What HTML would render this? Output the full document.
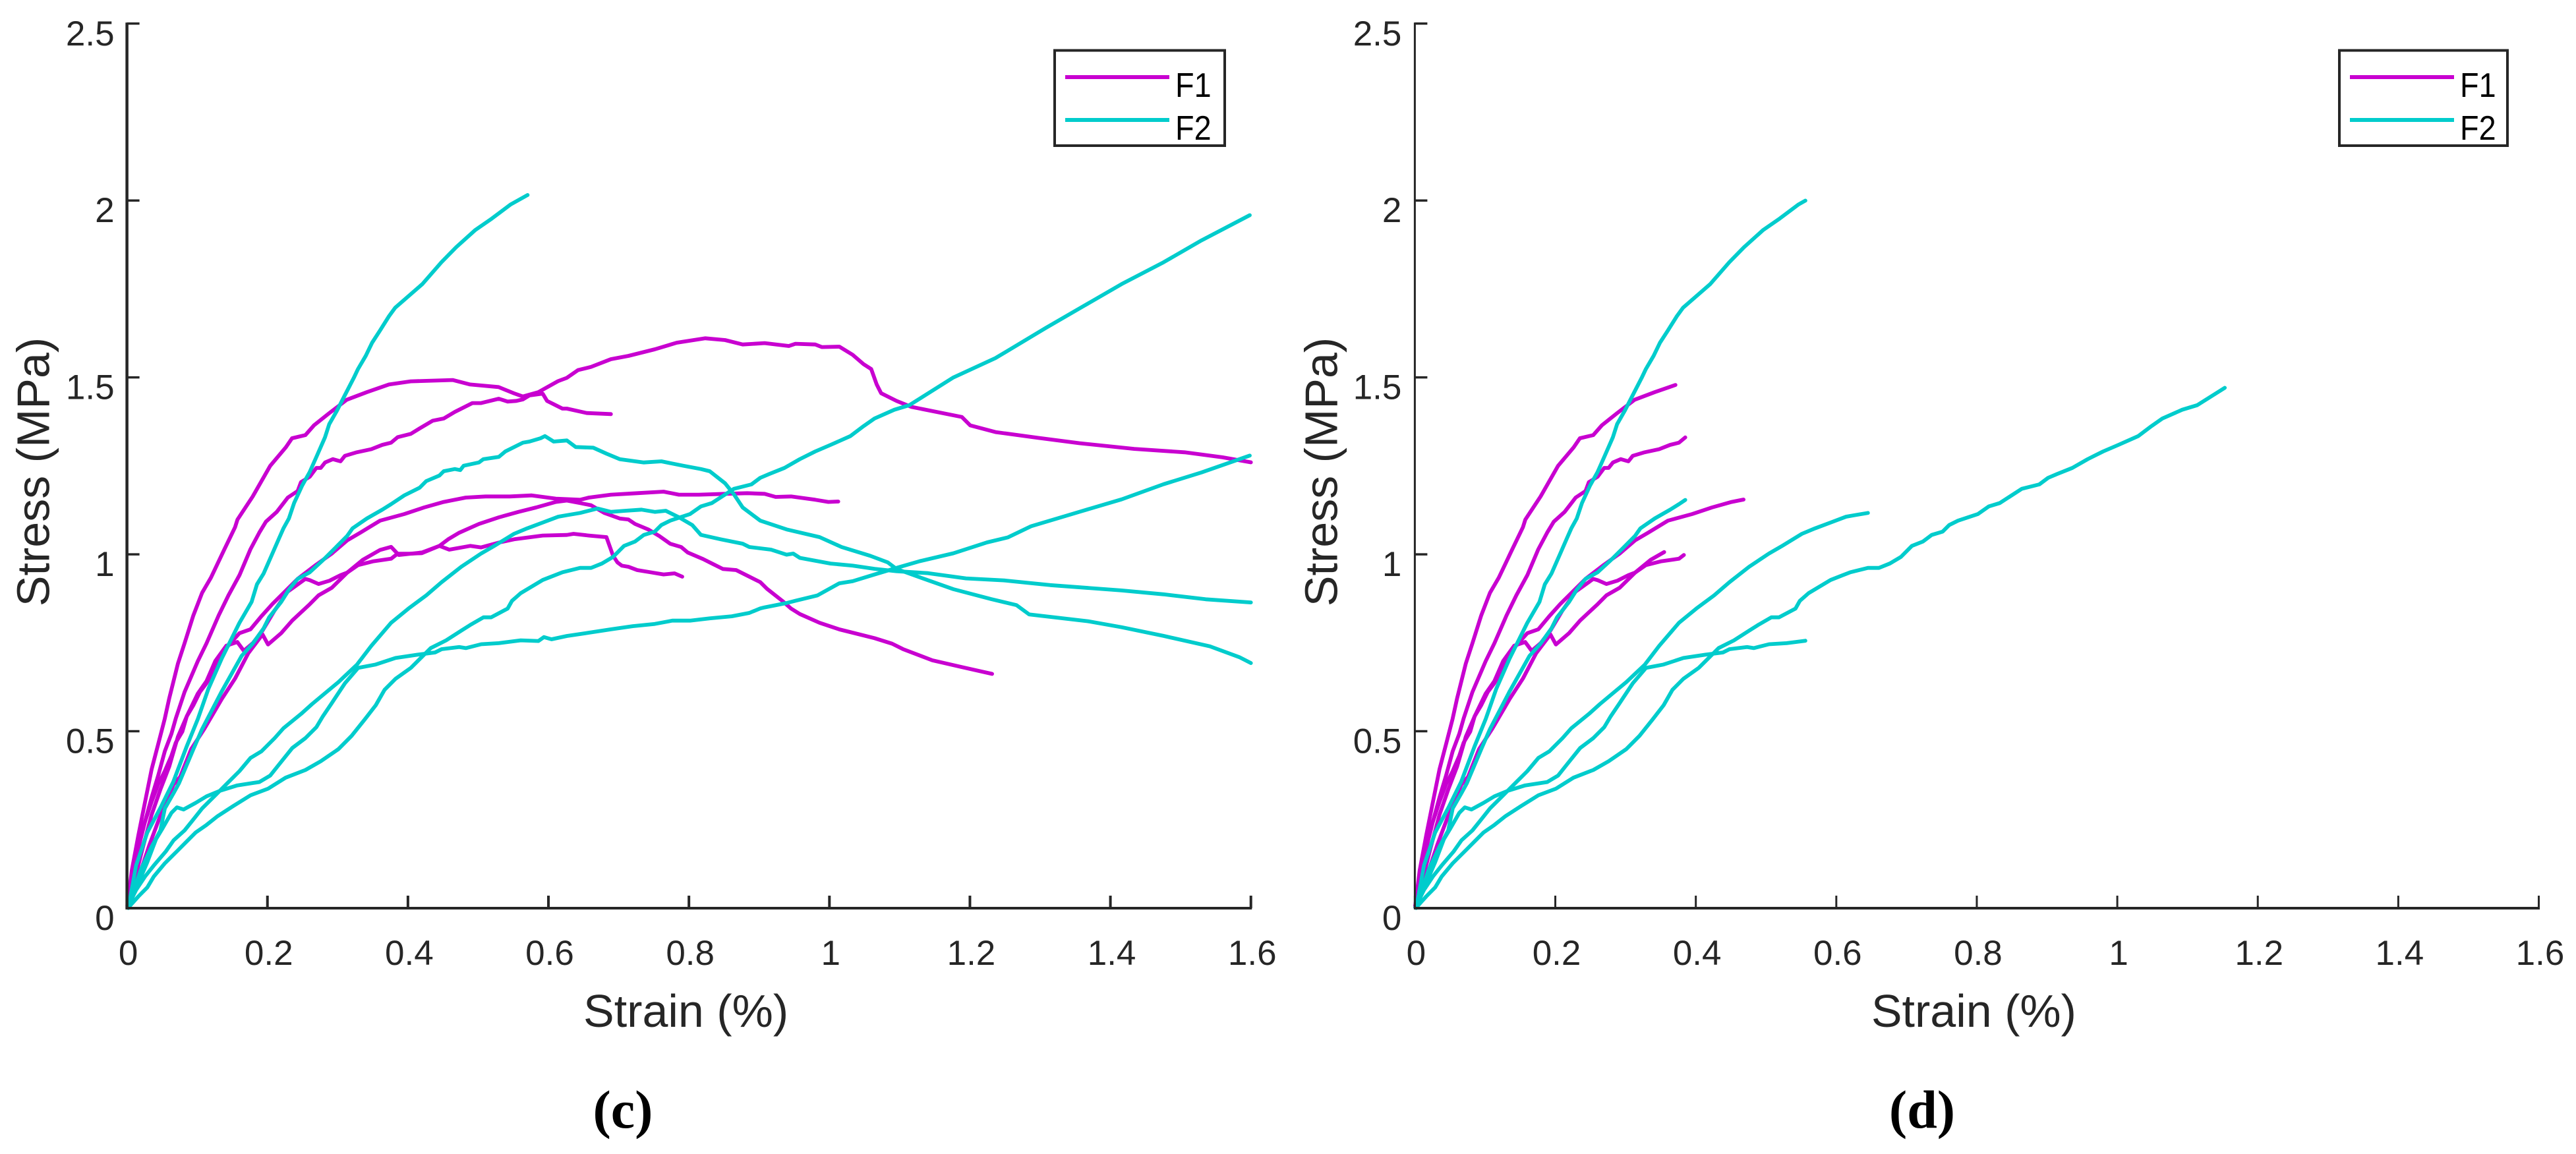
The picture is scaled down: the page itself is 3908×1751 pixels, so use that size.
<!DOCTYPE html>
<html lang="en">
<head>
<meta charset="utf-8">
<title>Stress-strain curves (c) and (d)</title>
<style>
html,body{margin:0;padding:0;background:#fff;}
svg{display:block;}
text{font-family:"Liberation Sans",Arial,sans-serif;fill:#262626;}
</style>
</head>
<body>
<svg id="figure" xmlns="http://www.w3.org/2000/svg" width="3908" height="1751" viewBox="0 0 3908 1751">
<rect x="0" y="0" width="3908" height="1751" fill="#ffffff"/>
</svg>
<script>
// Tick values and labels
const xTickValues = [0, 0.2, 0.4, 0.6, 0.8, 1, 1.2, 1.4, 1.6];
const xTickLabels = ["0", "0.2", "0.4", "0.6", "0.8", "1", "1.2", "1.4", "1.6"];
const yTickValues = [0, 0.5, 1, 1.5, 2, 2.5];
const yTickLabels = ["0", "0.5", "1", "1.5", "2", "2.5"];
const panelNames = ["c", "d"];
const seriesNames = ["F1", "F2"];

// F1 specimens: [strain %, stress MPa]
const f1Specimen1 = [[.0007,.0074],[.0069,.1073],[.0163,.207],[.0257,.2997],[.0351,.3923],[.0445,.4636],[.0538,.5349],[.0601,.592],[.0726,.6917],[.082,.7487],[.0945,.8271],[.107,.8913],[.1195,.934],[.1383,1.0125],[.1539,1.0766],[.1574,1.0984],[.179,1.1635],[.204,1.2504],[.2262,1.3027],[.235,1.328],[.254,1.337],[.2665,1.365],[.288,1.399],[.313,1.437],[.3416,1.4584],[.373,1.48],[.404,1.489],[.4636,1.4926],[.4886,1.48],[.529,1.4727],[.551,1.455],[.5637,1.446],[.5856,1.4584],[.6137,1.4894],[.6263,1.4988],[.642,1.5205],[.6607,1.5298],[.6889,1.5515],[.7139,1.5608],[.7514,1.5795],[.7827,1.598],[.8234,1.6105],[.8515,1.6055],[.8765,1.5931],[.9078,1.5969],[.9422,1.5888],[.9516,1.595],[.9798,1.5931],[.9891,1.5857],[1.0142,1.5869],[1.033,1.5639],[1.0486,1.5373],[1.0595,1.5236],[1.0673,1.4801],[1.0736,1.4553],[1.0955,1.4336],[1.1167,1.4167],[1.1885,1.3882],[1.2004,1.3645],[1.2364,1.3455],[1.2962,1.3293],[1.356,1.3141],[1.4339,1.298],[1.5056,1.2884],[1.5595,1.2742],[1.6,1.26]];
const f1Specimen2 = [[.0007,.0025],[.007,.0956],[.0164,.1825],[.0257,.2446],[.0351,.3129],[.0445,.375],[.0539,.4433],[.0633,.493],[.0695,.5364],[.082,.6109],[.1008,.6978],[.1133,.7485],[.1305,.8271],[.1445,.8842],[.1602,.9412],[.1758,1.0145],[.1883,1.0611],[.1977,1.0921],[.2133,1.12],[.229,1.1604],[.243,1.179],[.2477,1.2039],[.2603,1.2194],[.2696,1.2442],[.2759,1.2442],[.2821,1.2597],[.2931,1.269],[.304,1.2628],[.3103,1.2784],[.326,1.2877],[.3478,1.297],[.3635,1.3094],[.376,1.3156],[.3854,1.3311],[.4041,1.3404],[.4167,1.356],[.4354,1.3777],[.451,1.3839],[.4667,1.4025],[.4917,1.4274],[.5042,1.4274],[.5293,1.4398],[.5417,1.4317],[.5543,1.4336],[.5637,1.4379],[.573,1.4491],[.5918,1.4541],[.598,1.4336],[.6106,1.4212],[.62,1.4118],[.6263,1.4118],[.6545,1.3994],[.6889,1.3963]];
const f1Specimen3 = [[.0007,.0025],[.0132,.1453],[.0257,.2446],[.0351,.3005],[.0445,.3502],[.0539,.3874],[.0633,.4309],[.0695,.4681],[.0789,.4992],[.0852,.5426],[.0946,.5737],[.1039,.6109],[.1133,.6358],[.1258,.6792],[.1383,.7289],[.1602,.7772],[.1758,.788],[.1914,.8251],[.207,.8593],[.2258,.8965],[.243,.9307],[.2696,.971],[.2915,1.0021],[.3134,1.0393],[.3322,1.0611],[.3603,1.0952],[.3948,1.1138],[.4229,1.1325],[.451,1.148],[.4823,1.1604],[.5105,1.1635],[.545,1.1635],[.5762,1.1666],[.6106,1.1573],[.645,1.1542],[.6576,1.1604],[.6889,1.1685],[.7264,1.1728],[.7639,1.1772],[.7858,1.1685],[.814,1.1685],[.8515,1.171],[.8828,1.1728],[.9078,1.171],[.9234,1.1622],[.9454,1.1635],[.9798,1.1542],[.9985,1.148],[1.0126,1.1492]];
const f1Specimen4 = [[.0007,.0074],[.0116,.0859],[.0226,.1714],[.0351,.264],[.0476,.3353],[.0601,.3995],[.0726,.485],[.0851,.542],[.1008,.6062],[.1133,.6418],[.1258,.6988],[.1414,.7416],[.1571,.7523],[.1664,.7273],[.179,.7487],[.193,.7844],[.2102,.8414],[.229,.8948],[.254,.9305],[.2603,.9269],[.2728,.9162],[.2884,.9255],[.304,.9412],[.3135,.9483],[.3354,.984],[.3604,1.0125],[.376,1.021],[.387,.9982],[.4042,1.0018],[.4198,1.0033],[.4448,1.0238],[.4589,1.0133],[.4886,1.0238],[.5042,1.0195],[.5293,1.0331],[.5512,1.0424],[.5918,1.053],[.6263,1.0548],[.6357,1.0579],[.6576,1.053],[.6826,1.0486],[.692,.9959],[.6982,.9773],[.7045,.968],[.7139,.9648],[.7264,.9555],[.7452,.9493],[.7639,.9431],[.7796,.9462],[.7905,.9369]];
const f1Specimen5 = [[.0007,.0074],[.0163,.0859],[.0319,.1785],[.0507,.2783],[.0663,.3496],[.0757,.371],[.0914,.4494],[.1101,.5064],[.1352,.5919],[.1539,.649],[.1727,.7202],[.193,.7737],[.2008,.7452],[.2196,.7772],[.2353,.813],[.2603,.8592],[.2728,.8842],[.2916,.9055],[.3135,.9483],[.3291,.9697],[.351,.9804],[.376,.9875],[.3854,1.0018],[.4042,1.0018],[.4198,1.0052],[.4448,1.0238],[.4573,1.0424],[.473,1.0611],[.5011,1.0859],[.5293,1.1045],[.5574,1.12],[.5824,1.1325],[.6106,1.148],[.6263,1.152],[.645,1.1449],[.6607,1.1387],[.6795,1.1169],[.7014,1.1014],[.7139,1.0983],[.7233,1.0859],[.742,1.0704],[.7577,1.0518],[.7733,1.03],[.789,1.0207],[.7983,1.0052],[.8202,.9866],[.8327,.9742],[.8484,.9586],[.8672,.9555],[.886,.9369],[.9016,.9214],[.911,.9027],[.9328,.8686],[.9453,.8469],[.9579,.8313],[.986,.8065],[1.0142,.7879],[1.033,.7786],[1.0642,.7631],[1.0892,.7475],[1.1047,.7321],[1.1466,.7005],[1.1885,.6813],[1.2316,.6621]];

// F2 specimens: [strain %, stress MPa]
const f2Specimen1 = [[.002,.0003],[.013,.121],[.029,.214],[.048,.285],[.066,.357],[.085,.457],[.101,.535],[.116,.62],[.135,.706],[.16,.806],[.1774,.8655],[.185,.915],[.1946,.946],[.207,1.002],[.2165,1.045],[.2227,1.073],[.2305,1.101],[.238,1.145],[.2493,1.194],[.26,1.232],[.2696,1.275],[.282,1.331],[.288,1.368],[.299,1.406],[.31,1.449],[.323,1.499],[.329,1.524],[.34,1.561],[.349,1.598],[.36,1.632],[.373,1.673],[.3818,1.697],[.4207,1.764],[.4477,1.8254],[.4686,1.868],[.4955,1.916],[.5195,1.949],[.5464,1.989],[.5703,2.0154]];
const f2Specimen2 = [[.002,.003],[.0195,.108],[.035,.1732],[.0476,.2198],[.054,.282],[.0664,.3253],[.074,.353],[.0945,.449],[.107,.506],[.135,.613],[.1633,.713],[.1789,.7475],[.1946,.791],[.2024,.822],[.2196,.8655],[.2305,.9],[.243,.9307],[.2603,.9493],[.279,.9835],[.2978,1.0207],[.3134,1.0518],[.3212,1.0735],[.3416,1.1014],[.3635,1.1263],[.376,1.1418],[.3948,1.1666],[.4167,1.1883],[.426,1.207],[.4448,1.2225],[.451,1.2349],[.4667,1.2411],[.4745,1.238],[.4792,1.2504],[.5011,1.2597],[.5074,1.269],[.5293,1.2753],[.5386,1.2908],[.5637,1.3156],[.573,1.3187],[.5887,1.328],[.595,1.3342],[.6075,1.3187],[.6263,1.3218],[.6388,1.3032],[.6638,1.3013],[.6826,1.2846],[.7014,1.269],[.7358,1.2597],[.7608,1.2628],[.792,1.2504],[.817,1.2411],[.8296,1.2349],[.8515,1.2008],[.864,1.1697],[.8765,1.1325],[.9016,1.0952],[.939,1.0704],[.986,1.0487],[1.0173,1.0207],[1.058,.9959],[1.083,.9773],[1.0955,.9586],[1.1406,.9267],[1.1765,.9015],[1.2304,.8733],[1.2663,.8564],[1.2842,.8304],[1.368,.811],[1.4159,.794],[1.4757,.7694],[1.5416,.74],[1.5835,.7095],[1.6,.6926]];
const f2Specimen3 = [[.0007,.0025],[.0132,.0522],[.0257,.0894],[.0382,.1205],[.0555,.1608],[.0664,.1919],[.082,.2198],[.0946,.2508],[.1071,.2819],[.1258,.3191],[.1446,.3564],[.1602,.3874],[.1759,.4247],[.1915,.4433],[.2103,.4805],[.2228,.5085],[.2478,.5488],[.2635,.5768],[.2822,.6078],[.301,.6389],[.3276,.6885],[.3478,.7413],[.376,.8065],[.401,.847],[.426,.884],[.448,.9214],[.476,.965],[.504,1.002],[.523,1.024],[.551,1.058],[.57,1.0735],[.592,1.09],[.614,1.1064],[.6263,1.1107],[.645,1.117],[.67,1.1294],[.689,1.12],[.7076,1.123],[.7326,1.1263],[.7514,1.12],[.767,1.1232],[.786,1.1045],[.8046,1.0828],[.817,1.055],[.8453,1.0424],[.8765,1.03],[.886,1.0207],[.917,1.0133],[.939,.999],[.9485,1.002],[.958,.99],[1.0017,.974],[1.033,.968],[1.0642,.959],[1.0955,.9524],[1.1406,.9467],[1.1944,.932],[1.248,.9264],[1.3142,.913],[1.4159,.898],[1.4757,.887],[1.5356,.873],[1.6,.864]];
const f2Specimen4 = [[.0023,.0025],[.0164,.0335],[.0289,.0584],[.0382,.0894],[.0539,.1267],[.0727,.1639],[.0883,.195],[.0977,.2136],[.1133,.2353],[.129,.2601],[.1509,.2881],[.1759,.3191],[.2009,.3377],[.2259,.3688],[.2541,.3905],[.276,.4154],[.301,.4495],[.3198,.4868],[.3385,.5333],[.3542,.5737],[.3667,.617],[.3823,.6481],[.4042,.6792],[.4199,.7102],[.4324,.735],[.4543,.7568],[.4762,.7847],[.4887,.8003],[.5075,.822],[.5184,.822],[.5419,.8468],[.5481,.8685],[.5606,.8903],[.5919,.9275],[.62,.9493],[.645,.9617],[.6607,.9617],[.6763,.9742],[.692,.9928],[.7076,1.0238],[.7233,1.0362],[.7358,1.0548],[.7514,1.0642],[.7608,1.0828],[.7733,1.0952],[.8015,1.1138],[.8171,1.1355],[.8327,1.1449],[.864,1.1852],[.889,1.1977],[.9016,1.2163],[.9141,1.2268],[.936,1.2442],[.9579,1.269],[.9798,1.2908],[1.0017,1.3094],[1.0298,1.3342],[1.0486,1.3622],[1.0642,1.3839],[1.0924,1.4087],[1.1137,1.4215],[1.1765,1.5],[1.2363,1.5545],[1.3082,1.64],[1.362,1.7018],[1.4159,1.7636],[1.4757,1.8254],[1.5296,1.8871],[1.5984,1.9584]];
const f2Specimen5 = [[.0023,.0025],[.0148,.0646],[.0289,.1298],[.0414,.195],[.0508,.226],[.0633,.2695],[.0711,.285],[.0805,.2788],[.0977,.2974],[.1133,.316],[.1321,.3315],[.1571,.347],[.1884,.3564],[.204,.375],[.2165,.406],[.2353,.4526],[.254,.4805],[.2697,.5116],[.279,.5426],[.2916,.5799],[.3104,.6358],[.3291,.679],[.3541,.6885],[.3823,.7071],[.4136,.7164],[.4386,.7227],[.448,.732],[.473,.738],[.4824,.735],[.5043,.746],[.5293,.749],[.5606,.757],[.5857,.755],[.5935,.766],[.6044,.76],[.6263,.7693],[.6576,.7786],[.689,.788],[.72,.797],[.7514,.8034],[.7764,.8127],[.8015,.8127],[.8296,.819],[.861,.825],[.886,.8345],[.9016,.847],[.9078,.85],[.939,.8624],[.9516,.8686],[.983,.884],[1.014,.918],[1.033,.924],[1.0642,.943],[1.0955,.9617],[1.1286,.9806],[1.1765,1.003],[1.2244,1.0337],[1.2543,1.048],[1.287,1.0794],[1.359,1.122],[1.416,1.1554],[1.4757,1.1982],[1.5296,1.2314],[1.5984,1.279]];

// Strain at which each specimen stops in panel (d)
const f1PanelDEnd = [0.371, 0.385, 0.468, 0.355, 0.383];
const f2PanelDEnd = [0.556, 0.385, 0.645, 1.153, 0.556];

const f1Curves = [f1Specimen1, f1Specimen2, f1Specimen3, f1Specimen4, f1Specimen5];
const f2Curves = [f2Specimen1, f2Specimen2, f2Specimen3, f2Specimen4, f2Specimen5];

const NS = "http://www.w3.org/2000/svg";
const INK = "#262626";
const F1_COLOR = "#c800d0";
const F2_COLOR = "#00cccc";
const root = document.getElementById("figure");

function yScale(v) { return 1378 - 536.9 * v; }
function xScaleFor(origin) { return function (v) { return origin + 1065.7 * v; }; }

function make(tag, attrs, parent) {
  const el = document.createElementNS(NS, tag);
  for (const k in attrs) el.setAttribute(k, attrs[k]);
  parent.appendChild(el);
  return el;
}

function clip(curve, end) {
  if (end === null) return curve;
  const out = [];
  for (let i = 0; i < curve.length; i++) {
    if (curve[i][0] <= end) { out.push(curve[i]); continue; }
    const a = curve[i - 1], b = curve[i];
    const t = (end - a[0]) / (b[0] - a[0]);
    out.push([end, a[1] + (b[1] - a[1]) * t]);
    break;
  }
  return out;
}

function pathFrom(curve, xs) {
  return curve.map(function (p, i) {
    return (i ? "L" : "M") + xs(p[0]).toFixed(1) + " " + yScale(p[1]).toFixed(1);
  }).join("");
}

function drawPanel(index, cfg) {
  const xs = xScaleFor(cfg.origin);
  const name = panelNames[index];
  const g = make("g", {}, root);
  
  

  // F1 then F2 so cyan sits on top
  const f1Ends = index === 0 ? [null, null, null, null, null] : f1PanelDEnd;
  const f2Ends = index === 0 ? [null, null, null, null, null] : f2PanelDEnd;
  f1Curves.forEach(function (c, i) {
    const line = make("path", { d: pathFrom(clip(c, f1Ends[i]), xs), fill: "none", stroke: F1_COLOR, "stroke-width": 5.8, "stroke-linejoin": "round", "stroke-linecap": "round" }, g);
    
    
  });
  f2Curves.forEach(function (c, i) {
    const line = make("path", { d: pathFrom(clip(c, f2Ends[i]), xs), fill: "none", stroke: F2_COLOR, "stroke-width": 5.8, "stroke-linejoin": "round", "stroke-linecap": "round" }, g);
    
    
  });

  // Axes
  const yAxis = make("line", { x1: xs(0), x2: xs(0), y1: yScale(2.5) - 1.5, y2: yScale(0) + 2, stroke: INK, "stroke-width": cfg.axisWidth }, g);
  
  
  const xAxis = make("line", { x1: xs(0), x2: xs(1.6) + 1.5, y1: yScale(0), y2: yScale(0), stroke: INK, "stroke-width": 4 }, g);
  
  

  yTickValues.forEach(function (v, i) {
    const t = make("line", { x1: xs(0), x2: xs(0) + 19, y1: yScale(v), y2: yScale(v), stroke: INK, "stroke-width": 3.5 }, g);
    
    
    const l = make("text", { x: xs(0) - cfg.yLabelGap, y: yScale(v) + 33, "text-anchor": "end", "font-size": 53 }, g);
    l.textContent = yTickLabels[i];
    
    
  });
  xTickValues.forEach(function (v, i) {
    const t = make("line", { x1: xs(v), x2: xs(v), y1: yScale(0), y2: yScale(0) - 19, stroke: INK, "stroke-width": cfg.tickWidth }, g);
    
    
    const l = make("text", { x: xs(v) + 2, y: 1464, "text-anchor": "middle", "font-size": 53 }, g);
    l.textContent = xTickLabels[i];
    
    
  });

  // Axis titles
  const xTitle = make("text", { x: cfg.origin + 848, y: 1558, "text-anchor": "middle", "font-size": 70 }, g);
  xTitle.textContent = "Strain (%)";
  
  
  const yX = cfg.origin - 118, yY = 716;
  const yTitle = make("text", { x: yX, y: yY, "text-anchor": "middle", "font-size": 70, transform: "rotate(-90 " + yX + " " + yY + ")" }, g);
  yTitle.textContent = "Stress (MPa)";
  
  

  // Legend
  const lg = make("g", {}, g);
  
  
  const box = make("rect", { x: cfg.legendX, y: 76.5, width: cfg.legendW, height: 144.5, fill: "#ffffff", stroke: INK, "stroke-width": 4 }, lg);
  
  
  [[117, 147, F1_COLOR], [182, 212, F2_COLOR]].forEach(function (row, i) {
    const s = make("line", { x1: cfg.legendX + 16, x2: cfg.legendX + 174, y1: row[0], y2: row[0], stroke: row[2], "stroke-width": 6 }, lg);
    
    
    const tx = make("text", { "font-size": 52, transform: "translate(" + (cfg.legendX + 183) + " " + row[1] + ") scale(.9 1)" }, lg);
    tx.style.fill = "#000000";
    tx.textContent = seriesNames[i];
    
    
  });

  // Panel caption
  const cap = make("text", { x: cfg.captionX, y: 1711, "text-anchor": "middle", "font-size": 82, "font-weight": "bold" }, g);
  cap.style.fontFamily = '"Liberation Serif", serif';
  cap.style.fill = "#000000";
  cap.textContent = "(" + name + ")";
  
  
}

drawPanel(0, { origin: 192.6, axisWidth: 4.5, tickWidth: 4, yLabelGap: 19, legendX: 1600, legendW: 258, captionX: 945 });
drawPanel(1, { origin: 2146.4, axisWidth: 3, tickWidth: 3, yLabelGap: 20, legendX: 3549, legendW: 255, captionX: 2916 });
</script>
</body>
</html>
